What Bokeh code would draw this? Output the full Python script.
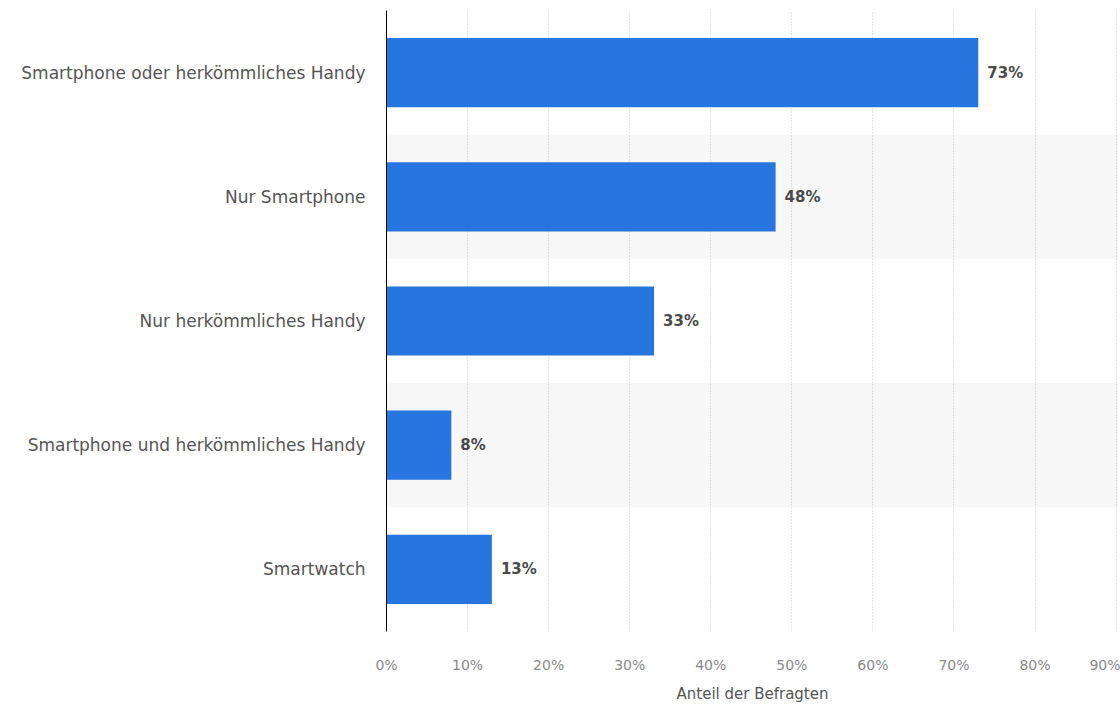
from bokeh.plotting import figure
from bokeh.models import ColumnDataSource, FactorRange, Range1d, FixedTicker
from bokeh.core.properties import value
from bokeh.embed import file_html
from bokeh.resources import INLINE

categories = [
    "Smartphone oder herkömmliches Handy",
    "Nur Smartphone",
    "Nur herkömmliches Handy",
    "Smartphone und herkömmliches Handy",
    "Smartwatch",
]
values = [73, 48, 33, 8, 13]
value_labels = ["73%", "48%", "33%", "8%", "13%"]
shaded = ["Nur Smartphone", "Smartphone und herkömmliches Handy"]
x_ticks = [0, 10, 20, 30, 40, 50, 60, 70, 80, 90]
x_tick_labels = ["0%", "10%", "20%", "30%", "40%", "50%", "60%", "70%", "80%", "90%"]
x_title = "Anteil der Befragten"

x_end = 90.3
FONT = "DejaVu Sans"

p = figure(
    width=1120, height=705,
    y_range=FactorRange(*reversed(categories), range_padding=0),
    x_range=Range1d(0, x_end),
    output_backend="svg", toolbar_location=None,
    min_border_left=386, min_border_right=2, min_border_top=10, min_border_bottom=67,
)
p.outline_line_color = None
p.background_fill_color = "white"
p.border_fill_color = "white"

band_src = ColumnDataSource(dict(y=shaded, left=[0] * len(shaded), right=[x_end] * len(shaded)))
p.hbar(y="y", left="left", right="right", height=1.0, source=band_src,
       fill_color="#000000", fill_alpha=0.03, line_color=None)

src = ColumnDataSource(dict(y=categories, v=values, lab=value_labels))
p.hbar(y="y", left=0, right="v", height=0.557, source=src,
       fill_color="#2775de", line_color=None)
p.text(x="v", y="y", text="lab", source=src, x_offset=9,
       text_baseline="middle", text_align="left",
       text_font=value(FONT), text_font_size="15px", text_font_style="bold",
       text_color="#4a4a4a")

# x axis
xa = p.xaxis[0]
xa.ticker = FixedTicker(ticks=x_ticks)
xa.major_label_overrides = {t: l for t, l in zip(x_ticks, x_tick_labels)}
xa.axis_line_color = None
xa.major_tick_line_color = None
xa.minor_tick_line_color = None
xa.major_label_text_font = FONT
xa.major_label_text_font_size = "14px"
xa.major_label_text_color = "#8a8a8a"
xa.major_label_standoff = 19
xa.axis_label = x_title
xa.axis_label_text_font = FONT
xa.axis_label_text_font_size = "15px"
xa.axis_label_text_font_style = "normal"
xa.axis_label_text_color = "#555555"
xa.axis_label_standoff = 9

# y axis
ya = p.yaxis[0]
ya.axis_line_color = "#000000"
ya.axis_line_width = 1
ya.major_tick_line_color = None
ya.minor_tick_line_color = None
ya.major_label_text_font = FONT
ya.major_label_text_font_size = "17px"
ya.major_label_text_color = "#555555"
ya.major_label_standoff = 15

p.ygrid.grid_line_color = None
p.xgrid.ticker = FixedTicker(ticks=x_ticks[1:])
p.xgrid.grid_line_color = "#cccccc"
p.xgrid.grid_line_dash = "1 2"
p.xgrid.grid_line_width = 1

open("out.html", "w").write(file_html(p, INLINE))
